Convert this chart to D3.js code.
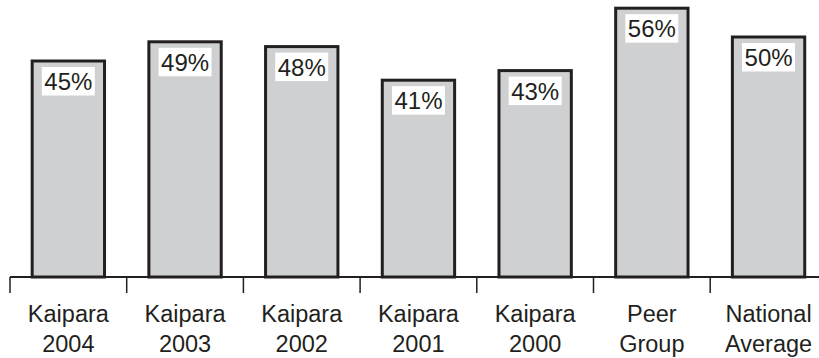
<!DOCTYPE html>
<html>
<head>
<meta charset="utf-8">
<script src="https://cdn.jsdelivr.net/npm/d3@7"></script>
<style>
  html, body { margin: 0; padding: 0; background: #fff; }
  svg { display: block; }
</style>
</head>
<body>
<svg id="chart" width="819" height="358"></svg>
<script>
// Category labels (two lines each) and percentage values
const categoryLine1 = ["Kaipara", "Kaipara", "Kaipara", "Kaipara", "Kaipara", "Peer", "National"];
const categoryLine2 = ["2004", "2003", "2002", "2001", "2000", "Group", "Average"];
const values = [45, 49, 48, 41, 43, 56, 50];

const svg = d3.select("#chart");
const W = 819, H = 358;
const baseY = 277;
const x0 = 10, step = 116.7;

const x = d3.scaleBand()
  .domain(d3.range(values.length))
  .range([x0, x0 + step * values.length])
  .paddingInner(0.38)
  .paddingOuter(0.19);

const y = d3.scaleLinear().domain([0, 100]).range([baseY, baseY - 480]);

const font = "Arial, 'Liberation Sans', sans-serif";
const ink = "#231f20";

// Bars
svg.append("g").selectAll("rect")
  .data(values)
  .join("rect")
  .attr("x", (d, i) => x(i))
  .attr("y", d => y(d))
  .attr("width", x.bandwidth())
  .attr("height", d => baseY - y(d))
  .attr("fill", "#cfd0d2")
  .attr("stroke", ink)
  .attr("stroke-width", 3);

// Baseline and category separators
svg.append("line")
  .attr("x1", x0).attr("x2", W)
  .attr("y1", baseY).attr("y2", baseY)
  .attr("stroke", ink).attr("stroke-width", 2);

svg.append("g").selectAll("line")
  .data(d3.range(values.length + 1))
  .join("line")
  .attr("x1", i => x0 + i * step).attr("x2", i => x0 + i * step)
  .attr("y1", baseY).attr("y2", baseY + 16)
  .attr("stroke", ink).attr("stroke-width", 1.5);

// Value labels on white boxes
const lab = svg.append("g").selectAll("g")
  .data(values)
  .join("g")
  .attr("transform", (d, i) => `translate(${x(i) + x.bandwidth() / 2},${y(d) + 6})`);

lab.append("rect")
  .attr("x", -26.5).attr("y", 0)
  .attr("width", 53).attr("height", 28.5)
  .attr("fill", "#fff");

lab.append("text")
  .attr("text-anchor", "middle")
  .attr("y", 23)
  .attr("font-family", font)
  .attr("font-size", 24)
  .attr("fill", ink)
  .text(d => d + "%");

// Category labels
const cat = svg.append("g").selectAll("text")
  .data(values.map((v, i) => i))
  .join("text")
  .attr("text-anchor", "middle")
  .attr("font-family", font)
  .attr("font-size", 23.5)
  .attr("fill", ink);

cat.append("tspan").attr("x", i => x(i) + x.bandwidth() / 2).attr("y", 321.5).text(i => categoryLine1[i]);
cat.append("tspan").attr("x", i => x(i) + x.bandwidth() / 2).attr("y", 351.5).text(i => categoryLine2[i]);
</script>
</body>
</html>
